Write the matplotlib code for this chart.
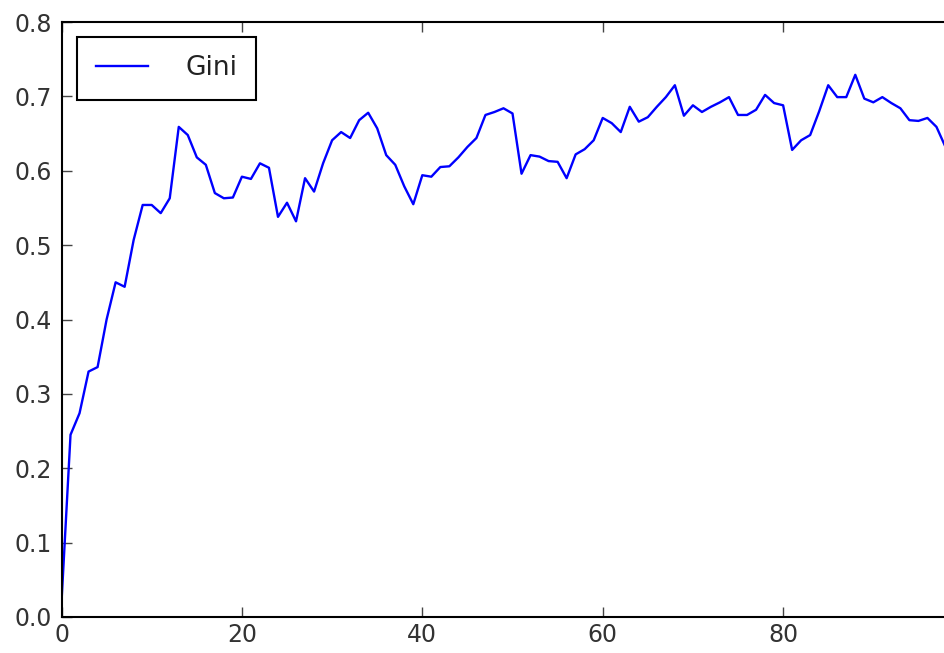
import matplotlib
matplotlib.use('Agg')
import matplotlib.pyplot as plt

# Gini coefficient per step
steps = list(range(99))
gini = [0.020, 0.245, 0.274, 0.330, 0.336, 0.400, 0.450, 0.444, 0.507, 0.554,
        0.554, 0.543, 0.563, 0.659, 0.648, 0.618, 0.608, 0.570, 0.563, 0.564,
        0.592, 0.589, 0.610, 0.604, 0.538, 0.557, 0.532, 0.590, 0.572, 0.610,
        0.641, 0.652, 0.644, 0.668, 0.678, 0.657, 0.621, 0.608, 0.579, 0.555,
        0.594, 0.592, 0.605, 0.606, 0.618, 0.632, 0.644, 0.675, 0.679, 0.684,
        0.677, 0.596, 0.621, 0.619, 0.613, 0.612, 0.590, 0.622, 0.629, 0.641,
        0.671, 0.664, 0.652, 0.686, 0.666, 0.672, 0.686, 0.699, 0.715, 0.674,
        0.688, 0.679, 0.686, 0.692, 0.699, 0.675, 0.675, 0.682, 0.702, 0.691,
        0.688, 0.628, 0.641, 0.648, 0.680, 0.715, 0.699, 0.699, 0.729, 0.697,
        0.692, 0.699, 0.691, 0.684, 0.668, 0.667, 0.671, 0.659, 0.632]

fig = plt.figure(figsize=(9.45, 6.53), dpi=100)
ax = fig.add_axes([61.5 / 945, 36 / 653, 893 / 945, 595 / 653])

ax.plot(steps, gini, color='blue', linewidth=1.7, label='Gini')

ax.set_xlim(0, 99)
ax.set_ylim(0, 0.8)
ax.set_xticks([0, 20, 40, 60, 80])
ax.set_yticks([0.0, 0.1, 0.2, 0.3, 0.4, 0.5, 0.6, 0.7, 0.8])
ax.set_yticklabels(['0.0', '0.1', '0.2', '0.3', '0.4', '0.5', '0.6', '0.7', '0.8'])

ax.tick_params(direction='in', length=7, width=1, top=True, right=True,
               labelsize=17, color='#444444', labelcolor='#333333', pad=4)
ax.tick_params(axis='y', pad=7)
for s in ax.spines.values():
    s.set_linewidth(1.5)

leg = ax.legend(loc='upper left', bbox_to_anchor=(0.0174, 0.975), fontsize=19,
                frameon=True, fancybox=False, framealpha=1, borderpad=0.7,
                handlelength=2.0, handletextpad=1.4, borderaxespad=0)
leg.get_frame().set_edgecolor('black')
leg.get_frame().set_linewidth(1.5)
for t in leg.get_texts():
    t.set_color('#222222')

fig.savefig('out.png', dpi=100)
